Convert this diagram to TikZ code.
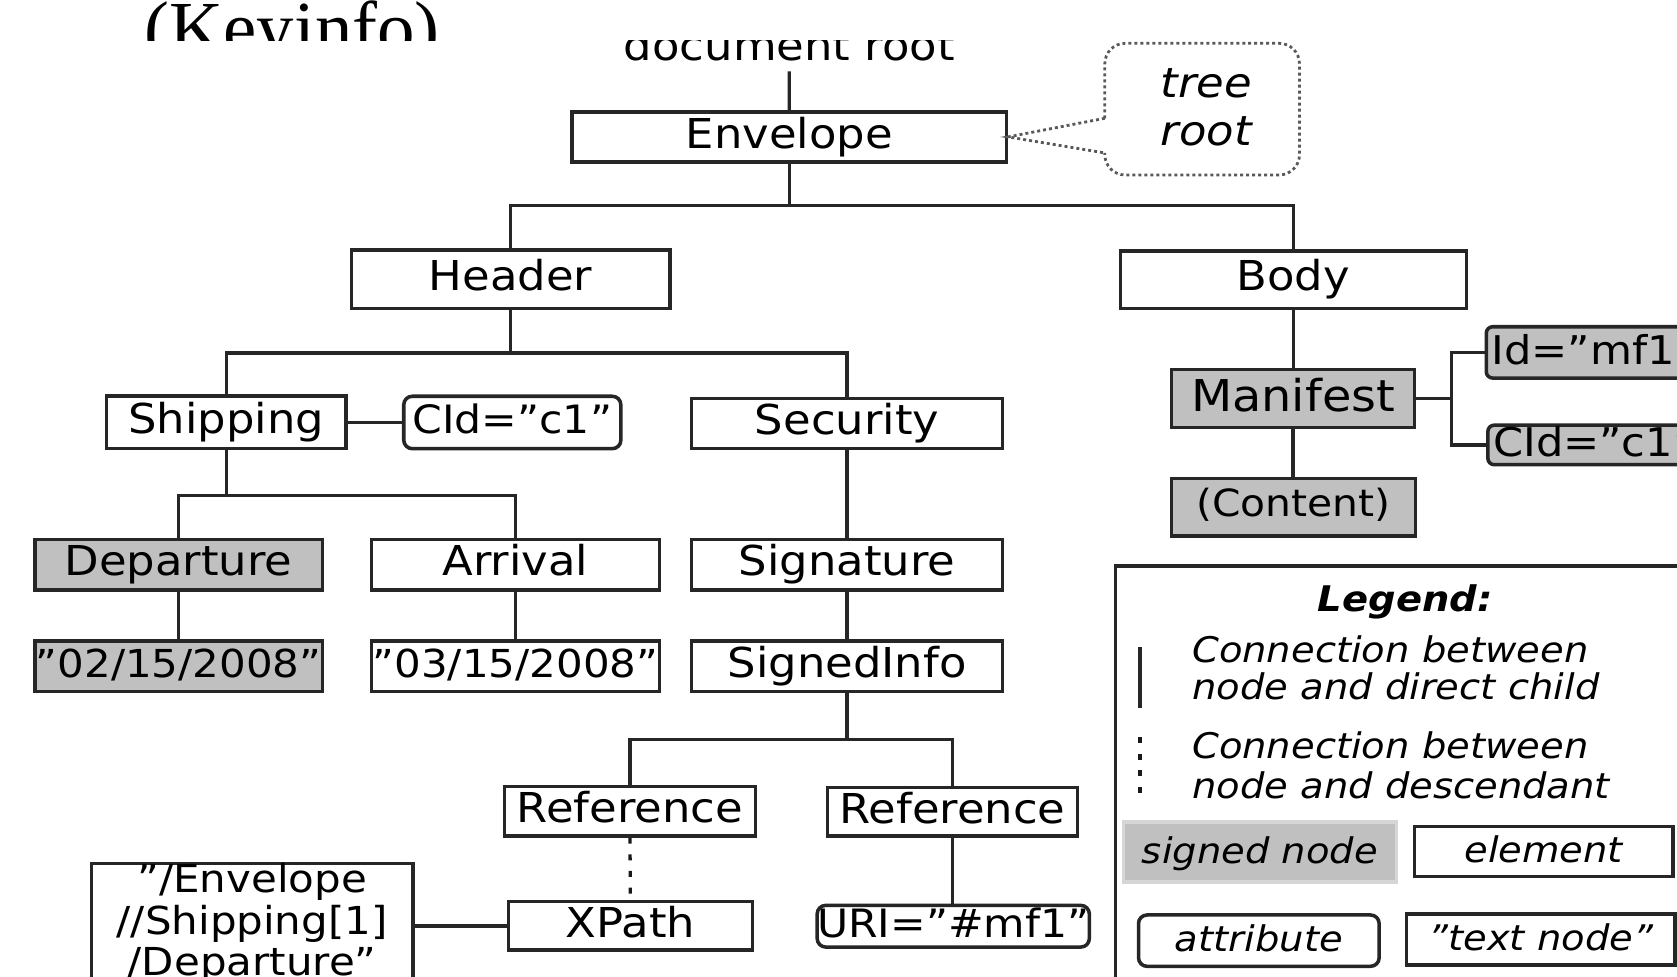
\documentclass[tikz,border=0pt]{standalone}
\usepackage{fontspec}
\setmainfont{DejaVu Sans}[FakeStretch=1.09]
\newfontfamily\serifpage{Liberation Serif}
\definecolor{sgray}{RGB}{192,192,192}
\definecolor{sgrayedge}{RGB}{214,214,214}
\newcommand\fsz[2]{\fontsize{#1}{#2}\selectfont}

\tikzset{
  elembox/.style={draw=black!85, line width=3.3pt, fill=white, inner sep=0pt,
    text height=27pt, text depth=6pt, font=\fsz{38.5}{44}},
  signedbox/.style={elembox, fill=sgray},
  attrbox/.style={elembox, rounded corners=8pt},
  sattrbox/.style={signedbox, rounded corners=6pt, anchor=west, text width=240pt,
    align=left, inner xsep=5pt, font=\fsz{37}{42}},
  conn/.style={draw=black!85, line width=3.1pt},
  descconn/.style={draw=black!90, line width=3.1pt, dash pattern=on 5.6pt off 10pt},
  callout/.style={draw=black!65, line width=2.6pt, dash pattern=on 2.8pt off 2.8pt},
  legtext/.style={anchor=base west, inner sep=0pt, font=\itshape\fsz{33}{36}},
  legbox/.style={elembox, font=\itshape\fsz{33}{36}, text height=25pt, text depth=4pt},
}

\begin{document}
\begin{tikzpicture}[x=1pt, y=-1pt]
\useasboundingbox (0,0) rectangle (1568,913);
\clip (0,0) rectangle (1568,913);

% running text of the page above the figure
\begin{scope}
  \clip (0,0) rectangle (1568,38);
  \node[anchor=base west, inner sep=0pt, font=\serifpage\fsz{70}{80}] (keyinfo) at (135,50) {(Keyinfo)};
\end{scope}

\begin{scope}
  \clip (0,38) rectangle (1568,913);

  % document root and envelope
  \node[anchor=base, inner xsep=0pt, inner ysep=9pt, font=\fsz{38.5}{44}] (docroot) at (738,57) {document root};
  \node[elembox, minimum width=406pt, minimum height=47pt] (env) at (737.9,128) {Envelope};

  % tree root callout
  \node[font=\itshape\fsz{38.5}{45}, align=center, inner sep=0pt] (treeroot) at (1128,100.7) {tree\\root};
  \draw[callout, rounded corners=19pt] (1033,110.6) -- (1033,40.5) -- (1215,40.5) -- (1215,163.6) -- (1033,163.6) -- (1033,143);
  \draw[callout] (1033,110.6) -- (env.east) -- (1033,143);

  % header branch
  \node[elembox, minimum width=298pt, minimum height=55pt] (header) at (477.5,261) {Header};
  \node[elembox, minimum width=224pt, minimum height=49pt] (ship) at (211.5,395) {Shipping};
  \node[attrbox, minimum width=203pt, minimum height=49pt, font=\fsz{36.5}{42}] (cid) at (479,395) {CId="c1"};
  \node[elembox, minimum width=291pt, minimum height=47pt] (sec) at (792,396) {Security};
  \node[signedbox, minimum width=269pt, minimum height=47pt] (dep) at (167,528) {Departure};
  \node[elembox, minimum width=269pt, minimum height=47pt] (arr) at (482,528) {Arrival};
  \node[elembox, minimum width=291pt, minimum height=47pt] (sig) at (792,528) {Signature};
  \node[signedbox, minimum width=269pt, minimum height=47pt, font=\fsz{36}{42}] (d1) at (167,623) {"02/15/2008"};
  \node[elembox, minimum width=269pt, minimum height=47pt, font=\fsz{36}{42}] (d2) at (482,623) {"03/15/2008"};
  \node[elembox, minimum width=291pt, minimum height=47pt] (si) at (792,623) {SignedInfo};
  \node[elembox, minimum width=235pt, minimum height=46pt] (ref1) at (589,758.5) {Reference};
  \node[elembox, minimum width=234pt, minimum height=45pt] (ref2) at (890.5,759) {Reference};
  \node[elembox, minimum width=228pt, minimum height=45.5pt] (xpath) at (589.4,865.7) {XPath};
  \node[draw=black!85, line width=3.3pt, fill=white, inner sep=0pt, align=center,
        minimum width=300.4pt, font=\fsz{36}{38.5}] (xtext) at (235.8,863.5)
        {"/Envelope\\//Shipping[1]\\/Departure"};
  \node[attrbox, minimum width=252pt, minimum height=39pt, font=\fsz{36.5}{42}] (uri) at (891.3,866) {URI="\#mf1"};

  % body branch
  \node[elembox, minimum width=323.6pt, minimum height=54pt] (body) at (1209.3,261.5) {Body};
  \node[signedbox, minimum width=227pt, minimum height=54pt, font=\fsz{41}{46}, text height=30pt, text depth=5pt] (man) at (1209,372.5) {Manifest};
  \node[signedbox, minimum width=228pt, minimum height=54pt, font=\fsz{35}{40}, text height=24pt, text depth=7pt] (cont) at (1209.5,474.4) {(Content)};
  \node[sattrbox, minimum height=48pt, text height=28pt, text depth=4.5pt] (idmf) at (1388,329.5) {Id="mf1"};
  \node[sattrbox, minimum height=37pt, text height=28pt, text depth=6pt] (cidc) at (1389.5,416) {CId="c1"};

  % parent--child connections
  \draw[conn] (docroot.south) -- (env.north);
  \draw[conn] (env.south) -- ++(0,38.7) -| (header.north);
  \draw[conn] (env.south) -- ++(0,38.7) -| (body.north);
  \draw[conn] (header.south) -- ++(0,40) -| (ship.north);
  \draw[conn] (header.south) -- ++(0,40) -| (sec.north);
  \draw[conn] (ship.east) -- (cid.west);
  \draw[conn] (ship.south) -- ++(0,42) -| (dep.north);
  \draw[conn] (ship.south) -- ++(0,42) -| (arr.north);
  \draw[conn] (dep.south) -- (d1.north);
  \draw[conn] (arr.south) -- (d2.north);
  \draw[conn] (sec.south) -- (sig.north);
  \draw[conn] (sig.south) -- (si.north);
  \draw[conn] (si.south) -- ++(0,43) -| (ref1.north);
  \draw[conn] (si.south) -- ++(0,43) -| (ref2.north);
  \draw[descconn] (ref1.south) -- (xpath.north);
  \draw[conn] (xpath.west) -- (xpath.west -| xtext.east);
  \draw[conn] (ref2.south) -- (ref2.south |- uri.north);
  \draw[conn] (body.south) -- (body.south |- man.north);
  \draw[conn] (man.south) -- (man.south |- cont.north);
  \draw[conn] (man.east) -- ++(32.7,0) |- (idmf.west);
  \draw[conn] (man.east) -- ++(32.7,0) |- (cidc.west);

  % legend
  \draw[draw=black!85, line width=3.3pt] (1043,529) rectangle (1700,1000);
  \node[font=\bfseries\itshape\fsz{33}{36}, anchor=base, inner sep=0pt] (legtitle) at (1313.8,572) {Legend:};
  \draw[conn] (1066,605) -- (1066,662);
  \node[legtext] (la1) at (1114.5,619) {Connection between};
  \node[legtext] (la2) at (1114.5,654) {node and direct child};
  \draw[descconn] (1066,689) -- (1066,745);
  \node[legtext] (lb1) at (1114.5,709) {Connection between};
  \node[legtext] (lb2) at (1114.5,747) {node and descendant};
  \node[legbox, fill=sgray, draw=sgrayedge, minimum width=255pt, minimum height=56pt] (lsigned) at (1178,796.5) {signed node};
  \node[legbox, minimum width=242pt, minimum height=46.6pt] (lelem) at (1443.4,796.2) {element};
  \node[legbox, rounded corners=8pt, minimum width=225pt, minimum height=48pt] (lattr) at (1177,879.5) {attribute};
  \node[legbox, minimum width=251pt, minimum height=48pt] (ltext) at (1440.7,878.5) {"text node"};
\end{scope}
\end{tikzpicture}
\end{document}
